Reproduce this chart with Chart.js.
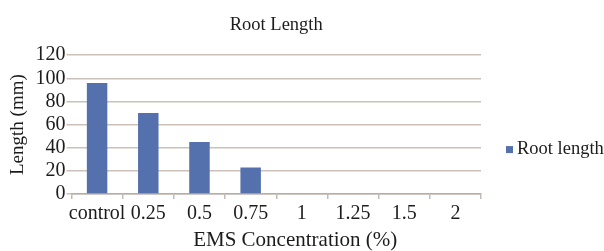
<!DOCTYPE html>
<html lang="en">
<head>
    <meta charset="UTF-8">
    <title>Root Length</title>
    <script src="https://cdn.jsdelivr.net/npm/chart.js"></script>
    <style>
        html, body { margin: 0; padding: 0; background: #fff; }
        #wrap { width: 604px; height: 251px; position: relative; }
    </style>
</head>
<body>
    <div id="wrap"><canvas id="rootChart"></canvas></div>

    <script>
        // data
        const concentrations = ['control', '0.25', '0.5', '0.75', '1', '1.25', '1.5', '2'];
        const rootLength = [96, 70, 45, 23, 0, 0, 0, 0];
        const yTicks = [0, 20, 40, 60, 80, 100, 120];

        const chartTitle = 'Root Length';
        const xTitle = 'EMS Concentration (%)';
        const yTitle = 'Length (mm)';

        const serif = "'Liberation Serif', 'DejaVu Serif', serif";
        const textColor = '#1c1c1c';
        const barColor = '#5470ad';

        // Excel-style legend on the right and x axis title, drawn after the chart
        const excelText = {
            id: 'excelText',
            afterDraw(chart) {
                const { ctx, chartArea } = chart;
                const ds = chart.data.datasets[0];
                const midY = (chartArea.top + chartArea.bottom) / 2;
                ctx.save();
                ctx.fillStyle = textColor;
                ctx.textBaseline = 'middle';

                // x axis title
                ctx.font = '21px ' + serif;
                ctx.textAlign = 'center';
                ctx.fillText(xTitle, (chartArea.left + chartArea.right) / 2 + 19, 240);

                // legend
                const lx = chartArea.right + 25;
                const ly = midY + 25;
                ctx.fillStyle = ds.backgroundColor;
                ctx.fillRect(lx, ly - 3.5, 7, 7);
                ctx.fillStyle = textColor;
                ctx.font = '18.5px ' + serif;
                ctx.textAlign = 'left';
                ctx.fillText(ds.label, lx + 11, ly);
                ctx.restore();
            }
        };

        const ctx = document.getElementById('rootChart').getContext('2d');
        const chart = new Chart(ctx, {
            type: 'bar',
            data: {
                labels: concentrations,
                datasets: [{
                    label: 'Root length',
                    data: rootLength,
                    backgroundColor: barColor,
                    barPercentage: 0.8,
                    categoryPercentage: 0.5
                }]
            },
            plugins: [excelText],
            options: {
                responsive: true,
                maintainAspectRatio: false,
                animation: false,
                layout: { padding: { left: 0, right: 123, top: 0, bottom: 0 } },
                plugins: {
                    title: {
                        display: true,
                        fullSize: false,
                        text: chartTitle,
                        color: textColor,
                        font: { family: serif, size: 18.5, weight: 'normal' },
                        padding: { top: 14, bottom: 19 }
                    },
                    legend: { display: false },
                    tooltip: { enabled: false }
                },
                scales: {
                    x: {
                        afterFit: scale => { scale.height = 57; },
                        grid: {
                            display: true,
                            offset: true,
                            drawOnChartArea: false,
                            drawTicks: true,
                            tickLength: 5,
                            lineWidth: 1.5,
                            color: '#c4bbb3'
                        },
                        border: { color: '#b7aea6', width: 1.5 },
                        ticks: {
                            color: textColor,
                            padding: 3,
                            maxRotation: 0,
                            autoSkip: false,
                            font: { family: serif, size: 20 }
                        }
                    },
                    y: {
                        min: 0,
                        max: 120,
                        afterFit: scale => { scale.width = 71.5; },
                        afterBuildTicks: axis => {
                            axis.ticks = yTicks.map(v => ({ value: v }));
                        },
                        grid: {
                            color: '#cbc1b8',
                            lineWidth: 1.5,
                            tickLength: 5
                        },
                        border: { display: false },
                        ticks: {
                            color: textColor,
                            padding: 1,
                            autoSkip: false,
                            font: { family: serif, size: 20 }
                        },
                        title: {
                            display: true,
                            text: yTitle,
                            color: textColor,
                            padding: { top: 6.5, bottom: 0 },
                            font: { family: serif, size: 19 }
                        }
                    }
                }
            }
        });
    </script>
</body>
</html>
